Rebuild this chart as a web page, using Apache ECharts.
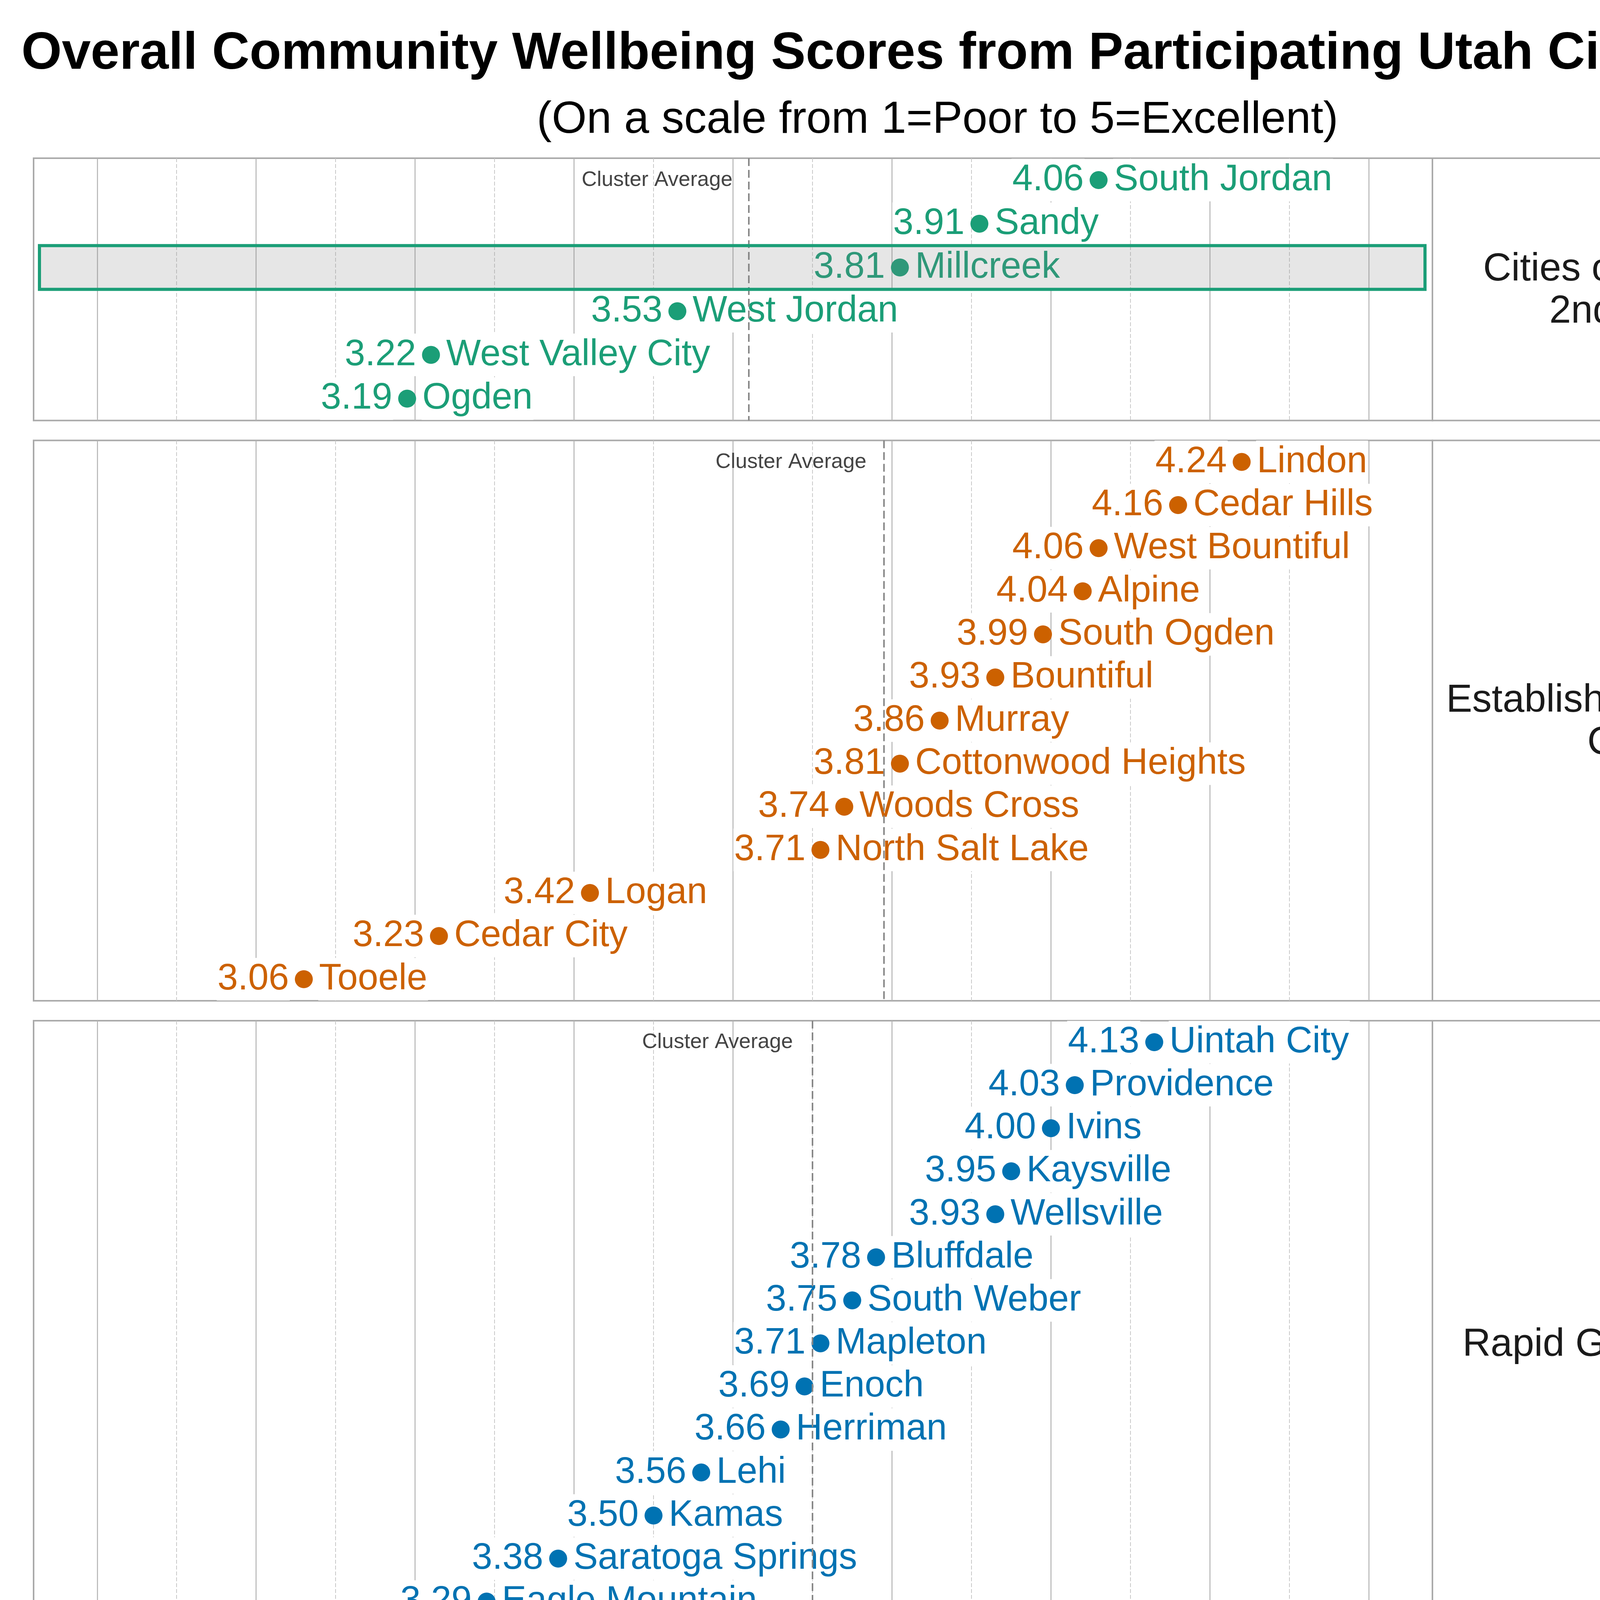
<!DOCTYPE html>
<html>
<head>
<meta charset="utf-8">
<script src="https://cdn.jsdelivr.net/npm/echarts@6/dist/echarts.min.js"></script>
<style>
html, body { margin: 0; padding: 0; background: #fff; }
#chart { width: 4800px; height: 7200px; }
</style>
</head>
<body>
<div id="chart"></div>
<script>
// 各组名称（右侧标签）
var clusters = ['Cities of the 1st &\n2nd Class', 'Established/Mid-sized\nCities', 'Rapid Growth Cities', 'Rural Hub/Resort\nCommunities', 'Traditional Rural\nCommunities'];

var cities1 = ['South Jordan', 'Sandy', 'Millcreek', 'West Jordan', 'West Valley City', 'Ogden'];
var scores1 = [4.06, 3.91, 3.81, 3.53, 3.22, 3.19];

var cities2 = ['Lindon', 'Cedar Hills', 'West Bountiful', 'Alpine', 'South Ogden', 'Bountiful', 'Murray', 'Cottonwood Heights', 'Woods Cross', 'North Salt Lake', 'Logan', 'Cedar City', 'Tooele'];
var scores2 = [4.24, 4.16, 4.06, 4.04, 3.99, 3.93, 3.86, 3.81, 3.74, 3.71, 3.42, 3.23, 3.06];

var cities3 = ['Uintah City', 'Providence', 'Ivins', 'Kaysville', 'Wellsville', 'Bluffdale', 'South Weber', 'Mapleton', 'Enoch', 'Herriman', 'Lehi', 'Kamas', 'Saratoga Springs', 'Eagle Mountain', 'Grantsville'];
var scores3 = [4.13, 4.03, 4.00, 3.95, 3.93, 3.78, 3.75, 3.71, 3.69, 3.66, 3.56, 3.50, 3.38, 3.29, 3.08];

var cities4 = ['Midway', 'Alta', 'Morgan', 'Bluff', 'Springdale', 'Richfield', 'Heber', 'Nephi', 'Manila', 'Blanding', 'Vernal', 'Moab', 'Tremonton', 'Wendover'];
var scores4 = [4.24, 4.15, 3.89, 3.80, 3.71, 3.57, 3.51, 3.51, 3.51, 3.33, 3.21, 3.12, 2.94, 2.92];

var cities5 = ['Mayfield', 'Lewiston', 'Toquerville', 'Ferron', 'Orangeville', 'Lake Point', 'La Verkin', 'Delta', 'Stockton'];
var scores5 = [4.08, 3.99, 3.83, 3.76, 3.72, 3.62, 3.57, 3.35, 3.30];

// 高亮的城市
var highlightCity = 'Millcreek';

var panelCities = [cities1, cities2, cities3, cities4, cities5];
var panelScores = [scores1, scores2, scores3, scores4, scores5];

// 样式
var panelColors = ['#1b9e77', '#cc6100', '#0072b2', '#b2182b', '#6a3d9a'];
var FONT = '"Liberation Sans", Arial, Helvetica, sans-serif';

// 布局
var plotLeft = 86, plotRight = 3667, stripRight = 4710;
var firstTop = 405, rowH = 109, panelGap = 51;
var xMin = 2.72, xMax = 4.48;

var chart = echarts.init(document.getElementById('chart'));

var grids = [], xAxes = [], yAxes = [], series = [], graphics = [];
var panelTop = firstTop;

for (var i = 0; i < panelCities.length; i++) {
    var cities = panelCities[i];
    var scores = panelScores[i];
    var color = panelColors[i];
    var h = (cities.length + 0.16) * rowH;
    var last = i === panelCities.length - 1;
    var mean = scores.reduce(function (a, b) { return a + b; }, 0) / scores.length;

    var pts = cities.map(function (c, k) {
        return { name: c, value: [scores[k], c] };
    });

    grids.push({
        left: plotLeft, top: panelTop, width: plotRight - plotLeft, height: h,
        show: true, borderColor: '#aaaaaa', borderWidth: 4, backgroundColor: 'transparent'
    });

    xAxes.push({
        gridIndex: i,
        type: 'value',
        min: xMin,
        max: xMax,
        splitNumber: 8,
        axisLine: { show: false },
        axisTick: { show: last, length: 8, lineStyle: { color: '#aaaaaa', width: 3 } },
        axisLabel: {
            show: last, showMinLabel: false, showMaxLabel: false,
            margin: 14, fontSize: 77, color: '#000', fontFamily: FONT,
            formatter: function (v) { return v.toFixed(1); }
        },
        splitLine: { show: true, showMinLine: false, showMaxLine: false, lineStyle: { color: '#b3b3b3', width: 2.5 } },
        minorTick: { show: false, splitNumber: 2 },
        minorSplitLine: { show: true, lineStyle: { color: '#c8c8c8', width: 2, type: [10, 5] } },
        name: last ? 'Average Score' : '',
        nameLocation: 'middle',
        nameGap: 129,
        nameTextStyle: { fontSize: 83, color: '#000', fontFamily: FONT }
    });

    yAxes.push({
        gridIndex: i,
        type: 'category',
        data: cities,
        inverse: true,
        boundaryGap: true,
        axisLine: { show: false },
        axisTick: { show: false },
        axisLabel: { show: false },
        splitLine: { show: false }
    });

    // 平均线 + 文字
    series.push({
        type: 'scatter',
        xAxisIndex: i, yAxisIndex: i,
        z: 2,
        silent: true,
        symbolSize: 0,
        itemStyle: { opacity: 1 },
        data: pts,
        markLine: {
            silent: true,
            symbol: ['none', 'none'],
            label: { show: false },
            lineStyle: { color: '#888888', type: [20, 10], width: 4, opacity: 1 },
            data: [{ xAxis: mean }]
        },
        markPoint: {
            silent: true,
            symbol: 'circle',
            symbolSize: 0,
            data: [{ coord: [mean, cities[0]] }],
            label: {
                show: true, position: 'left', distance: 42,
                formatter: 'Cluster Average',
                fontSize: 54, color: '#444444', fontFamily: FONT
            }
        }
    });

    // 点 + 分数
    series.push({
        type: 'scatter',
        xAxisIndex: i, yAxisIndex: i,
        z: 3,
        symbol: 'circle',
        symbolSize: 46,
        itemStyle: { color: color, opacity: 1 },
        data: pts,
        label: {
            show: true, position: 'left', distance: 13,
            formatter: function (p) { return p.value[0].toFixed(2); },
            fontSize: 94, lineHeight: 103, color: color, fontFamily: FONT,
            backgroundColor: '#ffffff', padding: [3, 2]
        }
    });

    // 城市名
    series.push({
        type: 'scatter',
        xAxisIndex: i, yAxisIndex: i,
        z: 3,
        silent: true,
        symbolSize: 0,
        itemStyle: { color: color, opacity: 1 },
        data: pts,
        label: {
            show: true, position: 'right', distance: 37,
            formatter: function (p) { return p.name; },
            fontSize: 94, lineHeight: 103, color: color, fontFamily: FONT,
            backgroundColor: '#ffffff', padding: [3, 2]
        }
    });

    // 高亮框
    var hl = pts.filter(function (d) { return d.name === highlightCity; });
    if (hl.length) {
        series.push({
            type: 'custom',
            xAxisIndex: i, yAxisIndex: i,
            z: 10,
            silent: true,
            data: hl,
            renderItem: (function (c) {
                return function (params, api) {
                    var pt = api.coord([api.value(0), api.value(1)]);
                    var band = api.size([0, 1])[1];
                    var cs = params.coordSys;
                    return {
                        type: 'rect',
                        shape: { x: cs.x + 15, y: pt[1] - band / 2, width: cs.width - 34, height: band },
                        style: { fill: 'rgba(128,128,128,0.2)', stroke: c, lineWidth: 8 }
                    };
                };
            })(color)
        });
    }

    // 右侧标签
    graphics.push({
        type: 'rect',
        shape: { x: plotRight, y: panelTop, width: stripRight - plotRight, height: h },
        style: { fill: '#ffffff', stroke: '#aaaaaa', lineWidth: 4 },
        z: 1
    });
    graphics.push({
        type: 'text',
        x: (plotRight + stripRight) / 2,
        y: panelTop + h / 2 + 4,
        style: {
            text: clusters[i],
            font: '100px ' + FONT,
            fill: '#1a1a1a',
            align: 'center',
            verticalAlign: 'middle',
            lineHeight: 108
        },
        z: 2
    });

    panelTop += h + panelGap;
}

var option = {
    animation: false,
    backgroundColor: '#ffffff',
    title: [
        {
            text: 'Overall Community Wellbeing Scores from Participating Utah Cities (2026)',
            left: 'center', top: 68,
            textStyle: { fontSize: 133, fontWeight: 'bold', color: '#000', fontFamily: FONT }
        },
        {
            text: '(On a scale from 1=Poor to 5=Excellent)',
            left: 'center', top: 246,
            textStyle: { fontSize: 115, fontWeight: 'normal', color: '#000', fontFamily: FONT }
        }
    ],
    grid: grids,
    xAxis: xAxes,
    yAxis: yAxes,
    series: series,
    graphic: graphics
};

chart.setOption(option);
</script>
</body>
</html>
